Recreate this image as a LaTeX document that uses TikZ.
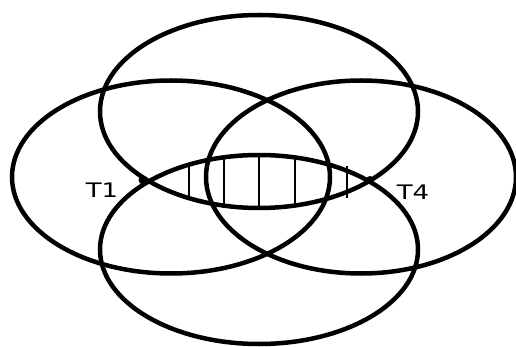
\documentclass[tikz,border=0pt]{standalone}
\usepackage{fontspec}
\setmainfont{DejaVu Sans}
\usetikzlibrary{positioning}

\begin{document}
\begin{tikzpicture}[x=1pt,y=-1pt,
    ring/.style={line width=4.5pt},
    hatch/.style={line width=1.8pt},
    dot/.style={circle,fill=black,inner sep=0pt,minimum size=8pt},
    lbl/.style={font=\fontsize{20}{20}\selectfont,xscale=1.3,inner sep=0pt}]
  \useasboundingbox (0,0) rectangle (516,347);
  % four rings
  \draw[ring] (259,111.5) ellipse [x radius=159, y radius=96.5];
  \draw[ring] (259,249.5) ellipse [x radius=159, y radius=94.5];
  \draw[ring] (171,177) ellipse [x radius=159, y radius=96.5];
  \draw[ring] (361,177) ellipse [x radius=155, y radius=96.5];
  % hatching of the lens
  \draw[hatch] (189,167) -- (189,197);
  \draw[hatch] (224,156) -- (224,205);
  \draw[hatch] (259,156) -- (259,208);
  \draw[hatch] (295,156) -- (295,205);
  \draw[hatch] (347,166) -- (347,198);
  % terminals
  \node[dot,minimum width=9pt,minimum height=7pt] (t1) at (143,180) {};
  \node[dot] (t4) at (370,180) {};
  \node[lbl] (t1lbl) at (102,190) {T1};
  \node[lbl] (t4lbl) at (413,192) {T4};
\end{tikzpicture}
\end{document}
